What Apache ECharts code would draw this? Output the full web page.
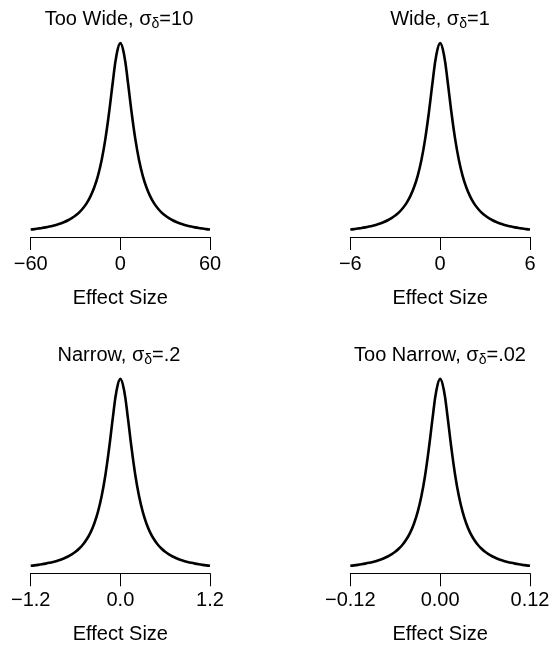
<!DOCTYPE html>
<html>
<head>
<meta charset="utf-8">
<script src="https://cdn.jsdelivr.net/npm/echarts@6/dist/echarts.min.js"></script>
<style>
  html, body { margin: 0; padding: 0; background: #fff; }
  #chart { width: 554px; height: 652px; }
</style>
</head>
<body>
<div id="chart"></div>
<script>
// prior densities (each panel: effect size vs density)
const xTooWide = [-60, -57.5, -55, -52.5, -50, -47.5, -45, -42.5, -40, -37.5, -35, -32.5, -30, -27.5, -25, -22.5, -20, -17.5, -15, -12.5, -10, -7.5, -5, -2.5, 0,
  2.5, 5, 7.5, 10, 12.5, 15, 17.5, 20, 22.5, 25, 27.5, 30, 32.5, 35, 37.5, 40, 42.5, 45, 47.5, 50, 52.5, 55, 57.5, 60]
const yTooWide = [0.00086, 0.00093, 0.00102, 0.00111, 0.00122, 0.00135, 0.00150, 0.00167, 0.00187, 0.00211, 0.00240, 0.00275, 0.00318, 0.00372, 0.00439, 0.00525, 0.00637, 0.00784, 0.00979, 0.01242, 0.01592, 0.02037, 0.02546, 0.02996, 0.03183,
  0.02996, 0.02546, 0.02037, 0.01592, 0.01242, 0.00979, 0.00784, 0.00637, 0.00525, 0.00439, 0.00372, 0.00318, 0.00275, 0.00240, 0.00211, 0.00187, 0.00167, 0.00150, 0.00135, 0.00122, 0.00111, 0.00102, 0.00093, 0.00086]

const xWide = [-6, -5.75, -5.5, -5.25, -5, -4.75, -4.5, -4.25, -4, -3.75, -3.5, -3.25, -3, -2.75, -2.5, -2.25, -2, -1.75, -1.5, -1.25, -1, -0.75, -0.5, -0.25, 0,
  0.25, 0.5, 0.75, 1, 1.25, 1.5, 1.75, 2, 2.25, 2.5, 2.75, 3, 3.25, 3.5, 3.75, 4, 4.25, 4.5, 4.75, 5, 5.25, 5.5, 5.75, 6]
const yWide = [0.0086, 0.0093, 0.0102, 0.0111, 0.0122, 0.0135, 0.0150, 0.0167, 0.0187, 0.0211, 0.0240, 0.0275, 0.0318, 0.0372, 0.0439, 0.0525, 0.0637, 0.0784, 0.0979, 0.1242, 0.1592, 0.2037, 0.2546, 0.2996, 0.3183,
  0.2996, 0.2546, 0.2037, 0.1592, 0.1242, 0.0979, 0.0784, 0.0637, 0.0525, 0.0439, 0.0372, 0.0318, 0.0275, 0.0240, 0.0211, 0.0187, 0.0167, 0.0150, 0.0135, 0.0122, 0.0111, 0.0102, 0.0093, 0.0086]

const xNarrow = [-1.2, -1.15, -1.1, -1.05, -1, -0.95, -0.9, -0.85, -0.8, -0.75, -0.7, -0.65, -0.6, -0.55, -0.5, -0.45, -0.4, -0.35, -0.3, -0.25, -0.2, -0.15, -0.1, -0.05, 0,
  0.05, 0.1, 0.15, 0.2, 0.25, 0.3, 0.35, 0.4, 0.45, 0.5, 0.55, 0.6, 0.65, 0.7, 0.75, 0.8, 0.85, 0.9, 0.95, 1, 1.05, 1.1, 1.15, 1.2]
const yNarrow = [0.0430, 0.0467, 0.0509, 0.0557, 0.0612, 0.0675, 0.0749, 0.0835, 0.0936, 0.1057, 0.1201, 0.1377, 0.1592, 0.1859, 0.2195, 0.2625, 0.3183, 0.3918, 0.4897, 0.6211, 0.7958, 1.0186, 1.2732, 1.4979, 1.5915,
  1.4979, 1.2732, 1.0186, 0.7958, 0.6211, 0.4897, 0.3918, 0.3183, 0.2625, 0.2195, 0.1859, 0.1592, 0.1377, 0.1201, 0.1057, 0.0936, 0.0835, 0.0749, 0.0675, 0.0612, 0.0557, 0.0509, 0.0467, 0.0430]

const xTooNarrow = [-0.12, -0.115, -0.11, -0.105, -0.1, -0.095, -0.09, -0.085, -0.08, -0.075, -0.07, -0.065, -0.06, -0.055, -0.05, -0.045, -0.04, -0.035, -0.03, -0.025, -0.02, -0.015, -0.01, -0.005, 0,
  0.005, 0.01, 0.015, 0.02, 0.025, 0.03, 0.035, 0.04, 0.045, 0.05, 0.055, 0.06, 0.065, 0.07, 0.075, 0.08, 0.085, 0.09, 0.095, 0.1, 0.105, 0.11, 0.115, 0.12]
const yTooNarrow = [0.430, 0.467, 0.509, 0.557, 0.612, 0.675, 0.749, 0.835, 0.936, 1.057, 1.201, 1.377, 1.592, 1.859, 2.195, 2.625, 3.183, 3.918, 4.897, 6.211, 7.958, 10.186, 12.732, 14.979, 15.915,
  14.979, 12.732, 10.186, 7.958, 6.211, 4.897, 3.918, 3.183, 2.625, 2.195, 1.859, 1.592, 1.377, 1.201, 1.057, 0.936, 0.835, 0.749, 0.675, 0.612, 0.557, 0.509, 0.467, 0.430]

// tick labels on each x axis
const ticksTooWide = [-60, 0, 60]
const ticksWide = [-6, 0, 6]
const ticksNarrow = [-1.2, 0, 1.2]
const ticksTooNarrow = [-0.12, 0, 0.12]

const titleNames = ['Too Wide, ', 'Wide, ', 'Narrow, ', 'Too Narrow, ']
const titleSigmas = ['10', '1', '.2', '.02']

const font = '"Liberation Sans", Helvetica, Arial, sans-serif'

const panels = [
  { x: xTooWide, y: yTooWide, ticks: ticksTooWide, digits: 0 },
  { x: xWide, y: yWide, ticks: ticksWide, digits: 0 },
  { x: xNarrow, y: yNarrow, ticks: ticksNarrow, digits: 1 },
  { x: xTooNarrow, y: yTooNarrow, ticks: ticksTooNarrow, digits: 2 }
]

const grids = [
  { left: 30.7, right: 344, top: 35.5, bottom: 415 },
  { left: 350.3, right: 24, top: 35.5, bottom: 415 },
  { left: 30.7, right: 344, top: 371.2, bottom: 78.7 },
  { left: 350.3, right: 24, top: 371.2, bottom: 78.7 }
]

function fmt(digits) {
  return v => (v < 0 ? '\u2212' : '') + Math.abs(v).toFixed(digits)
}

const chart = echarts.init(document.getElementById('chart'), null, { renderer: 'canvas' })

const option = {
  backgroundColor: '#fff',
  animation: false,
  title: panels.map((p, i) => ({
    text: '{a|' + titleNames[i] + 'σ}{b|δ}{a|=' + titleSigmas[i] + '}',
    left: i % 2 === 0 ? 119 : 440,
    top: i < 2 ? 19 : 355,
    textAlign: 'center',
    textVerticalAlign: 'middle',
    padding: 0,
    textStyle: {
      fontWeight: 'normal',
      rich: {
        a: { fontFamily: font, fontSize: 20, fontWeight: 'normal', color: '#000', lineHeight: 24, verticalAlign: 'middle' },
        b: { fontFamily: font, fontSize: 14, fontWeight: 'normal', color: '#000', lineHeight: 14, verticalAlign: 'bottom' }
      }
    }
  })),
  grid: grids,
  xAxis: panels.map((p, i) => ({
    type: 'value',
    gridIndex: i,
    min: p.ticks[0],
    max: p.ticks[2],
    interval: p.ticks[1] - p.ticks[0],
    splitLine: { show: false },
    axisLine: { show: true, onZero: false, lineStyle: { color: '#000', width: 1 } },
    axisTick: { show: true, length: 13, lineStyle: { color: '#000', width: 1 } },
    axisLabel: { color: '#000', fontFamily: font, fontSize: 20, margin: 17, formatter: fmt(p.digits) },
    name: 'Effect Size',
    nameLocation: 'middle',
    nameGap: 51.5,
    nameTextStyle: { color: '#000', fontFamily: font, fontSize: 20 }
  })),
  yAxis: panels.map((p, i) => {
    const peak = Math.max(...p.y)
    return {
      type: 'value',
      gridIndex: i,
      show: false,
      min: -peak * 0.012,
      max: peak * 1.04,
      splitLine: { show: false }
    }
  }),
  series: panels.map((p, i) => ({
    type: 'line',
    xAxisIndex: i,
    yAxisIndex: i,
    data: p.x.map((v, k) => [v, p.y[k]]),
    showSymbol: false,
    smooth: 0.4,
    lineStyle: { color: '#000', width: 2.6 }
  }))
}

chart.setOption(option)
</script>
</body>
</html>
